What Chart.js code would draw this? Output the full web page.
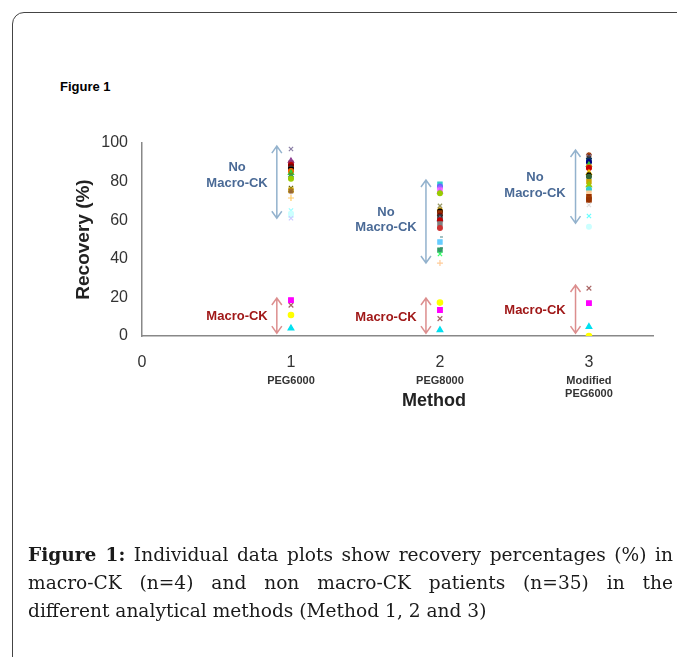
<!DOCTYPE html>
<html>
<head>
<meta charset="utf-8">
<script src="https://cdn.jsdelivr.net/npm/chart.js@4"></script>
<style>
  body { margin: 0; background: #fff; width: 677px; height: 657px; overflow: hidden; position: relative; }
  #frame { position: absolute; left: 12px; top: 12px; width: 720px; height: 720px; border: 1px solid #444; border-radius: 12px; }
  #chartWrap { position: absolute; left: 0; top: 0; width: 677px; height: 657px; }
  #figLabel { position: absolute; left: 60px; top: 79px; font: bold 13px "Liberation Sans", Arial, sans-serif; color: #000; }
  .cap { position: absolute; left: 28px; width: 645px; font: 18.6px "DejaVu Serif", serif; color: #1a1a1a; line-height: 28px; white-space: nowrap; }
  .cap.j { text-align: justify; text-align-last: justify; }
  .cap b { font-weight: bold; }
</style>
</head>
<body>
<div id="frame"></div>
<div id="figLabel">Figure 1</div>
<div id="chartWrap"><canvas id="myChart" width="677" height="657"></canvas></div>
<div class="cap j" style="top:541px"><b>Figure 1:</b> Individual data plots show recovery percentages (%) in</div>
<div class="cap j" style="top:569px">macro-CK (n=4) and non macro-CK patients (n=35) in the</div>
<div class="cap" style="top:597px">different analytical methods (Method 1, 2 and 3)</div>
<script>
// x positions of the three methods
const methods = [1, 2, 3];
const methodNames = [['PEG6000'], ['PEG8000'], ['Modified', 'PEG6000']];
const yTicks = [0, 20, 40, 60, 80, 100];

// non macro-CK recoveries (%) per method
const noMacro1 = [96.9, 90.7, 89.5, 88.6, 87.8, 87, 86.2, 85.5, 84.5, 83.6, 82.5, 81.5, 76.7, 75.5, 75, 71.5, 65, 63.5, 62.5, 61];
const noMacro2 = [78.6, 77.5, 76.7, 75.5, 74.8, 74, 67.4, 65.3, 64.5, 63.7, 62.5, 61.7, 60.5, 60, 58, 56, 51.3, 48.7, 45.6, 44.5, 42.5, 37.8];
const noMacro3 = [93.8, 93, 92, 91, 90, 88.6, 87.5, 87, 84.5, 83.5, 82.5, 80, 78.2, 76, 74, 72.2, 71, 70.5, 67.9, 62.2, 56.6];

// macro-CK patients, one value per method (1, 2, 3)
const macroA = [18.6, 13.5, 17];
const macroB = [16, 9, 24.8];
const macroC = [10.9, 17.3, 0];
const macroD = [4, 3.1, 4.8];

// marker styles (kept apart from the values)
const styles1 = [
  ['crossRot', '#8a7fa6'], ['triangle', '#8e3a8e'], ['rect', '#993366'], ['circle', '#c00000'], ['rect', '#800000'],
  ['star', '#333333'], ['rect', '#000000'], ['circle', '#ff6600'], ['triangle', '#33cc33'], ['crossRot', '#808000'],
  ['star', '#339966'], ['circle', '#99cc00'], ['crossRot', '#666600'], ['rect', '#c9a400'], ['star', '#996633'],
  ['cross', '#ffcc66'], ['crossRot', '#99ffff'], ['circle', '#ccffff'], ['rect', '#ccffff'], ['crossRot', '#ccccff']
];
const styles2 = [
  ['rect', '#33cccc'], ['circle', '#6666ff'], ['star', '#9966ff'], ['rect', '#ff66ff'], ['triangle', '#cc66ff'],
  ['circle', '#99cc00'], ['crossRot', '#999966'], ['star', '#cc9900'], ['circle', '#000000'], ['rect', '#993300'],
  ['star', '#800000'], ['rect', '#333333'], ['triangle', '#666699'], ['circle', '#c00000'], ['rect', '#808080'],
  ['circle', '#cc3333'], ['dash', '#669999'], ['rect', '#66ccff'], ['dash', '#336666'], ['rect', '#339966'],
  ['crossRot', '#33ff66'], ['cross', '#ffcc99']
];
const styles3 = [
  ['star', '#993300'], ['crossRot', '#666699'], ['star', '#333333'], ['rect', '#003366'], ['circle', '#000080'],
  ['triangle', '#33cc33'], ['rect', '#ff6600'], ['circle', '#cc0000'], ['triangle', '#ffcc00'], ['star', '#000000'],
  ['circle', '#336633'], ['rect', '#c9a400'], ['triangle', '#99cc00'], ['circle', '#33cccc'], ['rect', '#ffcc99'],
  ['rect', '#993300'], ['rect', '#a04000'], ['rect', '#993300'], ['crossRot', '#dddddd'], ['crossRot', '#66ffff'],
  ['circle', '#ccffff']
];

// arrows and labels (data coordinates)
const arrows = [
  { x: 0.905, from: 61, to: 98.4, color: '#93b2cd' },
  { x: 1.906, from: 37.8, to: 80.8, color: '#93b2cd' },
  { x: 2.91, from: 58.5, to: 96.4, color: '#93b2cd' },
  { x: 0.905, from: 1.5, to: 19.7, color: '#dc8e8e' },
  { x: 1.906, from: 1.5, to: 19.7, color: '#dc8e8e' },
  { x: 2.91, from: 1.5, to: 26.4, color: '#dc8e8e' }
];
const notes = [
  { x: 0.638, y: 87.6, text: 'No', color: '#4a6a96' },
  { x: 0.638, y: 79.3, text: 'Macro-CK', color: '#4a6a96' },
  { x: 1.638, y: 64.2, text: 'No', color: '#4a6a96' },
  { x: 1.638, y: 56, text: 'Macro-CK', color: '#4a6a96' },
  { x: 2.638, y: 82.4, text: 'No', color: '#4a6a96' },
  { x: 2.638, y: 74.1, text: 'Macro-CK', color: '#4a6a96' },
  { x: 0.638, y: 10.4, text: 'Macro-CK', color: '#a01818' },
  { x: 1.638, y: 9.8, text: 'Macro-CK', color: '#a01818' },
  { x: 2.638, y: 13, text: 'Macro-CK', color: '#a01818' }
];

// circles read a bit smaller than the other markers
const sizeFor = style => style === 'circle' ? 2.4 : 3;

function methodSet(values, method, styles) {
  return {
    data: values.map(v => ({ x: method, y: v })),
    pointStyle: styles.map(s => s[0]),
    pointBackgroundColor: styles.map(s => s[1]),
    pointBorderColor: styles.map(s => s[1]),
    pointBorderWidth: 1.2,
    pointRadius: styles.map(s => sizeFor(s[0])),
    showLine: false
  };
}

function macroSet(values, style, color) {
  return {
    data: values.map((v, i) => ({ x: methods[i], y: v })),
    pointStyle: style,
    pointBackgroundColor: color,
    pointBorderColor: color,
    pointBorderWidth: 1.2,
    pointRadius: sizeFor(style) + 0.3,
    showLine: false
  };
}

const datasets = [
  methodSet(noMacro1, 1, styles1),
  methodSet(noMacro2, 2, styles2),
  methodSet(noMacro3, 3, styles3),
  macroSet(macroA, 'rect', '#ff00ff'),
  macroSet(macroB, 'crossRot', '#a86464'),
  macroSet(macroC, 'circle', '#ffff00'),
  macroSet(macroD, 'triangle', '#00e0f0')
];

const extras = {
  id: 'extras',
  afterDatasetsDraw(chart) {
    const ctx = chart.ctx;
    const xs = chart.scales.x, ys = chart.scales.y;
    ctx.save();
    // double-headed arrows
    arrows.forEach(a => {
      const px = xs.getPixelForValue(a.x);
      const y1 = ys.getPixelForValue(a.to), y2 = ys.getPixelForValue(a.from);
      ctx.strokeStyle = a.color;
      ctx.lineWidth = 1.5;
      ctx.beginPath();
      ctx.moveTo(px, y1); ctx.lineTo(px, y2);
      ctx.moveTo(px - 5, y1 + 7); ctx.lineTo(px, y1); ctx.lineTo(px + 5, y1 + 7);
      ctx.moveTo(px - 5, y2 - 7); ctx.lineTo(px, y2); ctx.lineTo(px + 5, y2 - 7);
      ctx.stroke();
    });
    // labels
    ctx.font = 'bold 13px "Liberation Sans", Arial, sans-serif';
    ctx.textAlign = 'center';
    ctx.textBaseline = 'middle';
    notes.forEach(n => {
      ctx.fillStyle = n.color;
      ctx.fillText(n.text, xs.getPixelForValue(n.x), ys.getPixelForValue(n.y));
    });
    // method names under the ticks
    ctx.fillStyle = '#333';
    ctx.font = 'bold 11px "Liberation Sans", Arial, sans-serif';
    methods.forEach((m, i) => {
      methodNames[i].forEach((line, j) => {
        ctx.fillText(line, xs.getPixelForValue(m), xs.top + 45 + j * 13);
      });
    });
    // x axis title
    ctx.fillStyle = '#222';
    ctx.font = 'bold 18px "Liberation Sans", Arial, sans-serif';
    ctx.fillText('Method', xs.getPixelForValue(1.96), xs.top + 65);
    ctx.restore();
  }
};

const ctx = document.getElementById('myChart').getContext('2d');
const chart = new Chart(ctx, {
  type: 'scatter',
  data: { datasets },
  options: {
    responsive: false,
    animation: false,
    events: [],
    layout: { padding: { left: 60, top: 143, right: 24, bottom: 241 } },
    plugins: { legend: { display: false }, tooltip: { enabled: false } },
    scales: {
      x: {
        type: 'linear',
        min: 0,
        max: 3.43,
        afterFit: s => { s.height = 80; },
        grid: { display: false, drawTicks: false },
        border: { display: true, color: '#888', width: 1.5 },
        ticks: {
          stepSize: 1,
          includeBounds: false,
          padding: 17,
          color: '#333',
          font: { family: '"Liberation Sans", Arial, sans-serif', size: 16 },
          callback: v => Number.isInteger(v) ? v : ''
        }
      },
      y: {
        min: 0,
        max: 100,
        afterFit: s => { s.width = 82; },
        afterBuildTicks: s => { s.ticks = yTicks.map(v => ({ value: v })); },
        grid: { display: false, drawTicks: false },
        border: { display: true, color: '#888', width: 1.5 },
        ticks: {
          padding: 14,
          color: '#333',
          font: { family: '"Liberation Sans", Arial, sans-serif', size: 16 }
        },
        title: {
          display: true,
          text: 'Recovery (%)',
          color: '#222',
          padding: { top: 12, bottom: 0 },
          font: { family: '"Liberation Sans", Arial, sans-serif', size: 19, weight: 'bold' }
        }
      }
    }
  },
  plugins: [extras]
});
</script>
</body>
</html>
